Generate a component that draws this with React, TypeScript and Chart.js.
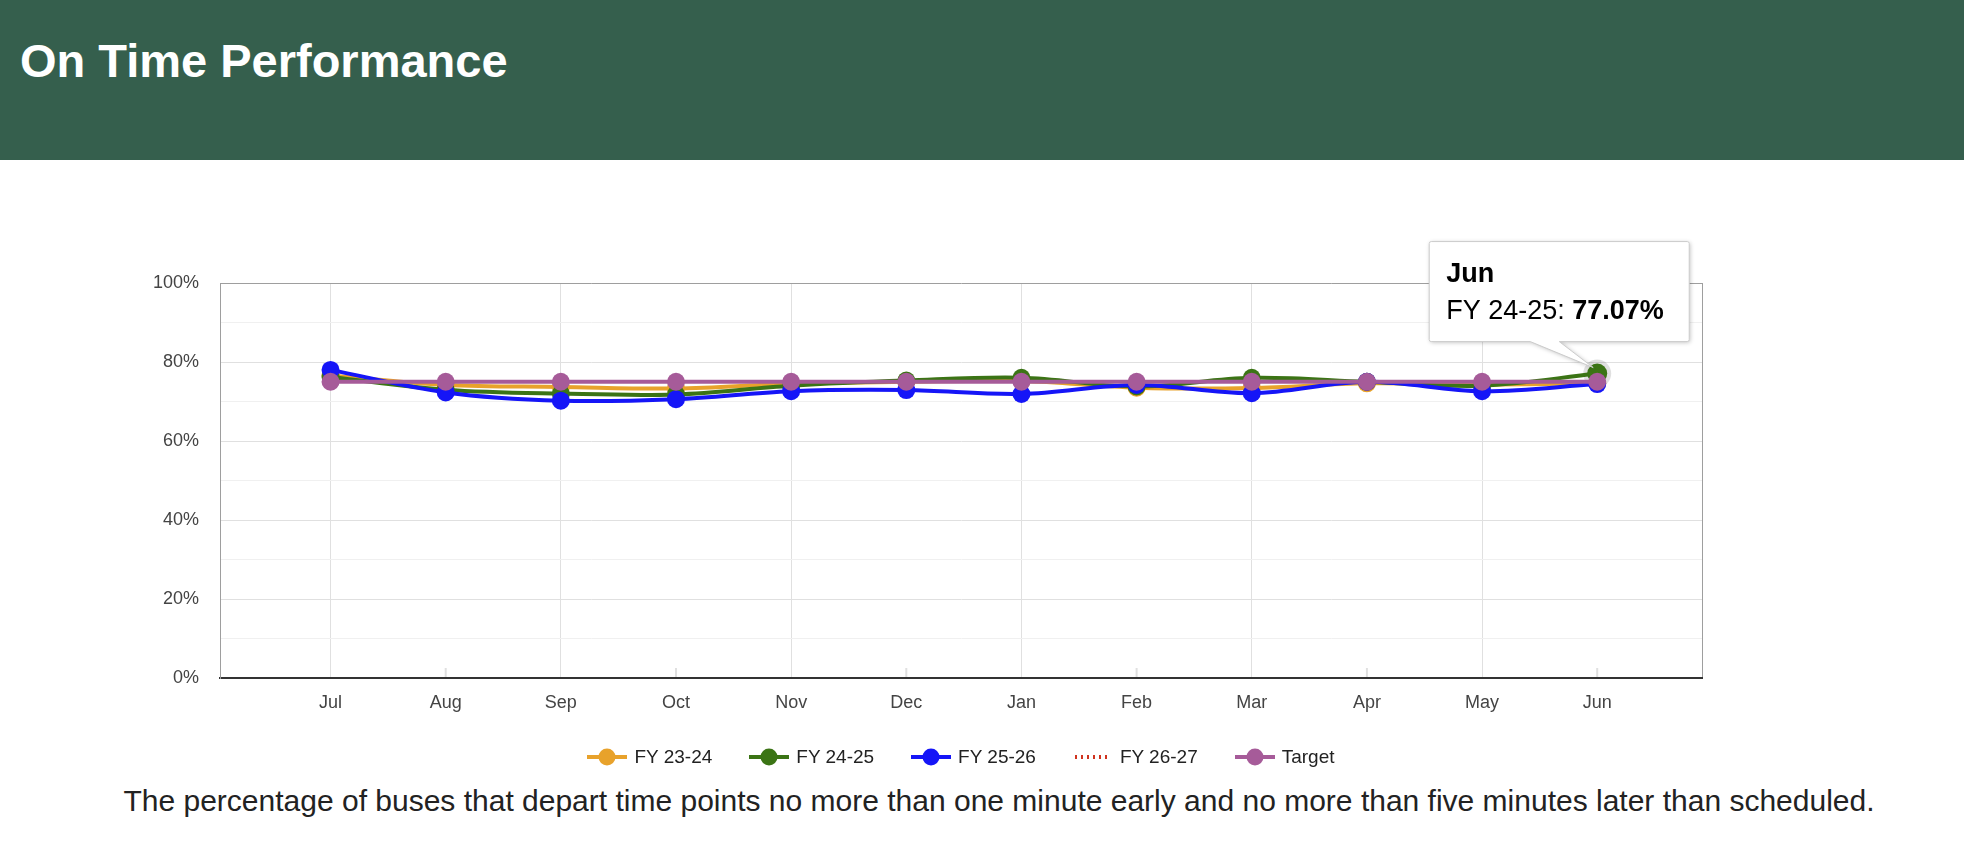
import { useEffect, useRef } from 'react';
import { Chart, registerables } from 'chart.js';
Chart.register(...registerables);

const MONTHS = ['Jul', 'Aug', 'Sep', 'Oct', 'Nov', 'Dec', 'Jan', 'Feb', 'Mar', 'Apr', 'May', 'Jun'];
const FY_23_24 = [76.6, 74.2, 73.7, 73.3, 74.5, 75.0, 75.2, 73.5, 73.4, 74.6, 74.3, 74.6];
const FY_24_25 = [76.2, 73.0, 72.0, 71.8, 74.0, 75.3, 76.0, 73.8, 76.0, 75.0, 74.0, 77.07];
const FY_25_26 = [78.0, 72.3, 70.2, 70.6, 72.6, 72.9, 71.9, 74.2, 72.1, 75.0, 72.6, 74.4];
const FY_26_27 = [null, null, null, null, null, null, null, null, null, null, null, null];
const TARGET = [75, 75, 75, 75, 75, 75, 75, 75, 75, 75, 75, 75];

const SERIES_LABELS = ['FY 23-24', 'FY 24-25', 'FY 25-26', 'FY 26-27', 'Target'];
const SERIES_COLORS = ['#e8a22b', '#3b7415', '#1515f7', '#d0331f', '#a65b99'];
const SERIES_DATA = [FY_23_24, FY_24_25, FY_25_26, FY_26_27, TARGET];

const Y_MIN = 0;
const Y_MAX = 100;
const Y_STEP = 10;
const X_MIN = -0.96;
const X_MAX = 11.91;

// hovered point in the reference
const TIP_SERIES = 1;
const TIP_INDEX = 11;

const FONT = '"Liberation Sans", Arial, Helvetica, sans-serif';

const decor = {
  id: 'decor',
  beforeDatasetsDraw(chart: any) {
    const { ctx, chartArea, scales } = chart;
    ctx.save();
    ctx.strokeStyle = '#e0e0e0';
    ctx.lineWidth = 2;
    MONTHS.forEach((_, i) => {
      if (i % 2 === 1) {
        const x = scales.x.getPixelForValue(i);
        ctx.beginPath();
        ctx.moveTo(x, chartArea.bottom - 1);
        ctx.lineTo(x, chartArea.bottom - 10);
        ctx.stroke();
      }
    });
    const pt = chart.getDatasetMeta(TIP_SERIES).data[TIP_INDEX];
    ctx.fillStyle = 'rgba(0,0,0,0.12)';
    ctx.beginPath();
    ctx.arc(pt.x, pt.y, 14, 0, Math.PI * 2);
    ctx.fill();
    ctx.restore();
  },
  afterDraw(chart: any) {
    const { ctx } = chart;
    const pt = chart.getDatasetMeta(TIP_SERIES).data[TIP_INDEX];
    const x = pt.x, y = pt.y;
    const left = x - 168, top = y - 132, w = 260, h = 100;
    const right = left + w, bottom = top + h, r = 2;

    ctx.save();
    ctx.beginPath();
    ctx.moveTo(left + r, top);
    ctx.arcTo(right, top, right, bottom, r);
    ctx.arcTo(right, bottom, left, bottom, r);
    ctx.lineTo(x - 38, bottom);
    ctx.lineTo(x - 4, y - 6);
    ctx.lineTo(x - 67, bottom);
    ctx.arcTo(left, bottom, left, top, r);
    ctx.arcTo(left, top, right, top, r);
    ctx.closePath();
    ctx.shadowColor = 'rgba(0,0,0,0.25)';
    ctx.shadowBlur = 4;
    ctx.shadowOffsetX = 1;
    ctx.shadowOffsetY = 1;
    ctx.fillStyle = '#ffffff';
    ctx.fill();
    ctx.shadowColor = 'transparent';
    ctx.strokeStyle = '#cccccc';
    ctx.lineWidth = 1;
    ctx.stroke();

    const label = SERIES_LABELS[TIP_SERIES] + ': ';
    const value = SERIES_DATA[TIP_SERIES][TIP_INDEX] as number;
    ctx.fillStyle = '#000000';
    ctx.textBaseline = 'alphabetic';
    ctx.textAlign = 'left';
    ctx.font = `bold 27px ${FONT}`;
    ctx.fillText(MONTHS[TIP_INDEX], left + 17, top + 40);
    ctx.font = `27px ${FONT}`;
    ctx.fillText(label, left + 17, top + 77);
    const wl = ctx.measureText(label).width;
    ctx.font = `bold 27px ${FONT}`;
    ctx.fillText(value.toFixed(2) + '%', left + 17 + wl, top + 77);
    ctx.restore();
  },
};

function LegendMark({ color, dotted }: { color: string; dotted: boolean }) {
  return (
    <svg width={40} height={20} style={{ display: 'block' }}>
      {dotted ? (
        <line x1={2} y1={10} x2={36} y2={10} stroke={color} strokeWidth={4} strokeDasharray="2 4" />
      ) : (
        <>
          <line x1={0} y1={10} x2={40} y2={10} stroke={color} strokeWidth={4} />
          <circle cx={20} cy={10} r={8.5} fill={color} />
        </>
      )}
    </svg>
  );
}

export default function App() {
  const canvasRef = useRef<HTMLCanvasElement>(null);

  useEffect(() => {
    const datasets = SERIES_LABELS.map((label, i) => ({
      label,
      data: SERIES_DATA[i].map((v, j) => ({ x: j, y: v })),
      borderColor: SERIES_COLORS[i],
      backgroundColor: SERIES_COLORS[i],
      borderWidth: 4,
      borderDash: i === 3 ? [2, 4] : [],
      tension: 0.35,
      pointRadius: (c: any) => (i === TIP_SERIES && c.dataIndex === TIP_INDEX ? 10 : 9),
      pointHoverRadius: 9,
      pointBorderWidth: 0,
      pointBackgroundColor: SERIES_COLORS[i],
      order: SERIES_LABELS.length - i,
      fill: false,
    }));

    const chart = new Chart(canvasRef.current!, {
      type: 'line',
      data: { datasets },
      plugins: [decor],
      options: {
        animation: false,
        responsive: true,
        maintainAspectRatio: false,
        events: [],
        layout: { padding: { top: 123, right: 262, bottom: 32, left: 0 } },
        plugins: { legend: { display: false }, tooltip: { enabled: false } },
        scales: {
          x: {
            type: 'linear',
            min: X_MIN,
            max: X_MAX,
            afterBuildTicks: (scale: any) => {
              scale.ticks = [X_MIN, ...MONTHS.map((_, i) => i), X_MAX].map((v) => ({ value: v }));
            },
            afterFit: (scale: any) => { scale.height = 50; },
            ticks: {
              autoSkip: false,
              maxRotation: 0,
              padding: 14,
              color: '#444444',
              font: { size: 18, family: FONT },
              callback: (v: any) => (Number.isInteger(v) && v >= 0 && v < MONTHS.length ? MONTHS[v] : ''),
            },
            grid: {
              drawTicks: false,
              lineWidth: 1,
              color: (c: any) => {
                const v = c.tick.value;
                if (v === X_MAX) return '#9e9e9e';
                if (Number.isInteger(v) && v % 2 === 0) return '#e0e0e0';
                return 'rgba(0,0,0,0)';
              },
            },
            border: { color: '#333333', width: 2 },
          },
          y: {
            min: Y_MIN,
            max: Y_MAX,
            afterFit: (scale: any) => { scale.width = 220; },
            ticks: {
              stepSize: Y_STEP,
              autoSkip: false,
              padding: 21,
              color: '#444444',
              font: { size: 18, family: FONT },
              callback: (v: any) => (v % 20 === 0 ? v + '%' : ''),
            },
            grid: {
              drawTicks: false,
              lineWidth: 1,
              color: (c: any) => {
                const v = c.tick.value;
                if (v === Y_MAX) return '#9e9e9e';
                if (v === Y_MIN) return 'rgba(0,0,0,0)';
                return v % 20 === 0 ? '#e0e0e0' : '#f0f0f0';
              },
            },
            border: { color: '#9e9e9e', width: 1 },
          },
        },
      },
    });

    return () => { chart.destroy(); };
  }, []);

  return (
    <div style={{ position: 'absolute', left: 0, top: 0, width: 1964, height: 868, background: '#fff', fontFamily: FONT, overflow: 'hidden' }}>
      <div style={{ position: 'absolute', left: 0, top: 0, width: 1964, height: 160, background: '#355f4d' }}>
        <div style={{ position: 'absolute', left: 20, top: 37, fontSize: 47, lineHeight: '47px', fontWeight: 'bold', color: '#fff' }}>
          On Time Performance
        </div>
      </div>

      <div style={{ position: 'absolute', left: 0, top: 160, width: 1964, height: 600 }}>
        <canvas ref={canvasRef} />
      </div>

      <div style={{ position: 'absolute', left: 0, top: 746, width: 1922, height: 22, display: 'flex', justifyContent: 'center', alignItems: 'center', gap: 37 }}>
        {SERIES_LABELS.map((l, i) => (
          <div key={l} style={{ display: 'flex', alignItems: 'center', gap: 7 }}>
            <LegendMark color={SERIES_COLORS[i]} dotted={i === 3} />
            <span style={{ fontSize: 19, color: '#222', lineHeight: '22px' }}>{l}</span>
          </div>
        ))}
      </div>

      <div style={{ position: 'absolute', left: 34, top: 784, width: 1930, textAlign: 'center', fontSize: 30, lineHeight: '34px', color: '#222' }}>
        The percentage of buses that depart time points no more than one minute early and no more than five minutes later than scheduled.
      </div>
    </div>
  );
}
